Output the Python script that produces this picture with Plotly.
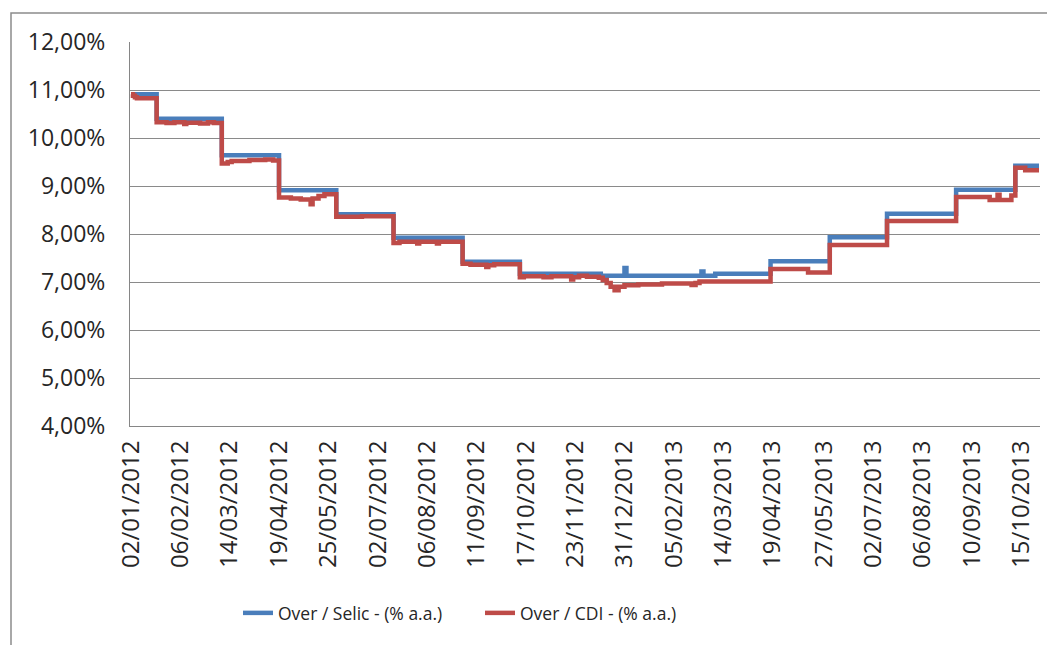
import plotly.graph_objects as go
import pandas as pd

# ---- axis labels ----
tick_dates = ['2012-01-02', '2012-02-06', '2012-03-14', '2012-04-19', '2012-05-25',
              '2012-07-02', '2012-08-06', '2012-09-11', '2012-10-17', '2012-11-23',
              '2012-12-31', '2013-02-05', '2013-03-14', '2013-04-19', '2013-05-27',
              '2013-07-02', '2013-08-06', '2013-09-10', '2013-10-15']
tick_labels = ['02/01/2012', '06/02/2012', '14/03/2012', '19/04/2012', '25/05/2012',
               '02/07/2012', '06/08/2012', '11/09/2012', '17/10/2012', '23/11/2012',
               '31/12/2012', '05/02/2013', '14/03/2013', '19/04/2013', '27/05/2013',
               '02/07/2013', '06/08/2013', '10/09/2013', '15/10/2013']

# Brazilian national holidays (non-business days of the series)
holidays = ['2012-02-20', '2012-02-21', '2012-04-06', '2012-05-01', '2012-06-07',
            '2012-09-07', '2012-10-12', '2012-11-02', '2012-11-15', '2012-12-25',
            '2013-01-01', '2013-02-11', '2013-02-12', '2013-03-29', '2013-05-30']
first_day = '2012-01-02'
last_day = '2013-10-28'

# ---- series: dates where the value changes, and the values (% a.a.) ----
selic_dates = ['2012-01-02', '2012-01-19', '2012-03-08', '2012-04-19', '2012-05-31',
               '2012-07-12', '2012-08-30', '2012-10-11', '2012-12-12', '2012-12-31',
               '2013-01-02', '2013-02-27', '2013-02-28', '2013-03-08', '2013-04-18',
               '2013-05-31', '2013-07-11', '2013-08-29', '2013-10-10', '2013-10-28']
selic_vals = [10.91, 10.40, 9.64, 8.91, 8.41,
              7.92, 7.42, 7.17, 7.13, 7.29,
              7.13, 7.22, 7.13, 7.17, 7.43,
              7.93, 8.42, 8.92, 9.42, 9.42]

cdi_dates = ['2012-01-02', '2012-01-03', '2012-01-04', '2012-01-05', '2012-01-19',
             '2012-01-26', '2012-02-01', '2012-02-08', '2012-02-09', '2012-02-22',
             '2012-02-28', '2012-03-02', '2012-03-08', '2012-03-13', '2012-03-15',
             '2012-03-28', '2012-04-10', '2012-04-16', '2012-04-19', '2012-04-27',
             '2012-05-07', '2012-05-14', '2012-05-15', '2012-05-18', '2012-05-23',
             '2012-05-31', '2012-06-20', '2012-07-12', '2012-07-17', '2012-07-30',
             '2012-07-31', '2012-08-13', '2012-08-14', '2012-08-30', '2012-09-05',
             '2012-09-18', '2012-09-19', '2012-09-24', '2012-10-11', '2012-10-16',
             '2012-10-30', '2012-11-06', '2012-11-21', '2012-11-22', '2012-11-27',
             '2012-12-03', '2012-12-11', '2012-12-13', '2012-12-17', '2012-12-19',
             '2012-12-21', '2012-12-26', '2012-12-31', '2013-01-10', '2013-01-28',
             '2013-02-20', '2013-02-22', '2013-02-26', '2013-04-18', '2013-05-15',
             '2013-05-31', '2013-07-11', '2013-08-29', '2013-09-23', '2013-09-27',
             '2013-09-30', '2013-10-08', '2013-10-10', '2013-10-17', '2013-10-28']
cdi_vals = [10.91, 10.88, 10.85, 10.83, 10.33,
            10.31, 10.33, 10.29, 10.32, 10.30,
            10.33, 10.31, 9.47, 9.50, 9.52,
            9.54, 9.55, 9.53, 8.76, 8.74,
            8.72, 8.62, 8.74, 8.79, 8.83,
            8.36, 8.37, 7.81, 7.84, 7.80,
            7.84, 7.80, 7.84, 7.38, 7.36,
            7.31, 7.35, 7.37, 7.10, 7.12,
            7.10, 7.12, 7.05, 7.10, 7.13,
            7.11, 7.09, 7.04, 6.98, 6.90,
            6.83, 6.90, 6.93, 6.95, 6.97,
            6.94, 6.98, 7.01, 7.27, 7.20,
            7.77, 8.27, 8.77, 8.71, 8.82,
            8.71, 8.80, 9.38, 9.33, 9.33]

series_names = ['Over / Selic - (% a.a.)', 'Over / CDI - (% a.a.)']
series_colors = ['#4A7EBB', '#BE4B48']

# business-day categories of the x axis
days = pd.bdate_range(first_day, last_day, freq='C', holidays=holidays)
categories = [d.strftime('%Y-%m-%d') for d in days]

# page body has an 8px margin: the figure is sized/positioned to compensate
OFF = 8
W, H = 1055 - OFF, 645 - OFF
ML, MT = 130 - OFF, 42 - OFF
PW = 1040 - 130
PH = 426 - 42
MR = W - ML - PW
MB = H - MT - PH


def px_x(x):
    return (x - OFF - ML) / PW


def px_y(y):
    return (MT + PH - (y - OFF)) / PH


fig = go.Figure()
fig.add_trace(go.Scatter(x=selic_dates, y=selic_vals, mode='lines', name=series_names[0],
                         line=dict(color=series_colors[0], width=4.5, shape='hv')))
fig.add_trace(go.Scatter(x=cdi_dates, y=cdi_vals, mode='lines', name=series_names[1],
                         line=dict(color=series_colors[1], width=4.5, shape='hv')))

font_family = 'Open Sans, Liberation Sans, sans-serif'
fig.update_layout(
    width=W, height=H,
    margin=dict(l=ML, r=MR, t=MT, b=MB, autoexpand=False),
    paper_bgcolor='white', plot_bgcolor='white',
    separators=',.',
    font=dict(family=font_family, color='#262626'),
    showlegend=True,
    legend=dict(orientation='h', x=px_x(238), xanchor='left',
                y=px_y(613), yanchor='middle',
                font=dict(size=17.5, family=font_family, color='#262626'),
                entrywidth=197, bgcolor='rgba(0,0,0,0)', borderwidth=0),
    xaxis=dict(type='category', categoryorder='array', categoryarray=categories,
               range=[-0.5, len(categories) - 0.5],
               tickmode='array', tickvals=tick_dates, ticktext=tick_labels,
               tickangle=-90, showgrid=False, zeroline=False,
               showline=True, linecolor='#868686', linewidth=1,
               ticks='outside', ticklen=4, tickcolor='rgba(0,0,0,0)',
               tickfont=dict(size=24), automargin=False),
    yaxis=dict(range=[4, 12], dtick=1, tick0=4, tickformat='.2f', ticksuffix='%',
               showgrid=True, gridcolor='#8A8A8A', gridwidth=1, zeroline=False,
               showline=True, linecolor='#868686', linewidth=1,
               ticks='outside', ticklen=19, tickcolor='rgba(0,0,0,0)',
               tickfont=dict(size=23), automargin=False),
    shapes=[dict(type='rect', xref='paper', yref='paper',
                 x0=px_x(11), x1=2.0, y0=-2.0, y1=px_y(13),
                 line=dict(color='#8C8C8C', width=1.5), fillcolor='rgba(0,0,0,0)',
                 layer='below')],
)

fig.write_html('out.html')
